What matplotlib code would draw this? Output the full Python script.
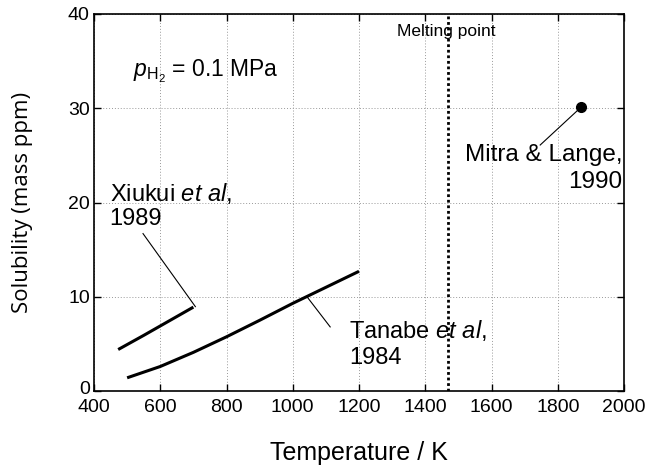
import matplotlib
matplotlib.use("Agg")
import matplotlib.pyplot as plt
import matplotlib.transforms as mtransforms

plt.rcParams['font.family'] = ['Liberation Sans', 'DejaVu Sans']
plt.rcParams['mathtext.fontset'] = 'custom'
plt.rcParams['mathtext.rm'] = 'Liberation Sans'
plt.rcParams['mathtext.it'] = 'Liberation Sans:italic'

# Data
xiukui_T = [473, 550, 625, 700]
xiukui_S = [4.4, 5.9, 7.4, 8.9]
tanabe_T = [500, 600, 700, 800, 900, 1000, 1100, 1200]
tanabe_S = [1.4, 2.6, 4.1, 5.75, 7.5, 9.3, 11.0, 12.7]
mitra_T = [1870]
mitra_S = [30.1]
melting_T = 1470

xticks = [400, 600, 800, 1000, 1200, 1400, 1600, 1800, 2000]
yticks = [0, 10, 20, 30, 40]

fig = plt.figure(figsize=(6.47, 4.68), dpi=100)
ax = fig.add_axes([94/647, 1-391/468, (624-94)/647, (391-14)/468])

ax.plot(xiukui_T, xiukui_S, color='black', lw=2.2, solid_capstyle='butt')
ax.plot(tanabe_T, tanabe_S, color='black', lw=2.2, solid_capstyle='butt')
ax.plot(mitra_T, mitra_S, 'o', color='black', ms=7)
ax.axvline(melting_T, color='black', lw=2, ls=(0, (1, 1)))

ax.set_xlim(400, 2000)
ax.set_ylim(0, 40)
ax.set_xticks(xticks)
ax.set_yticks(yticks)
ax.grid(True, color='#999999', ls=(0, (1, 2)), lw=0.7)
ax.tick_params(direction='in', top=True, right=True, length=5, width=1, labelsize=14)
ax.tick_params(axis='x', pad=5.5)
ax.tick_params(axis='y', pad=3)
for s in ax.spines.values():
    s.set_linewidth(1.2)

# lift the "0" label slightly, as in the reference, so it clears "400"
fig.canvas.draw()
zero_lbl = ax.get_yticklabels()[0]
zero_lbl.set_transform(zero_lbl.get_transform() +
                       mtransforms.ScaledTranslation(0, 3/100, fig.dpi_scale_trans))

ax.set_xlabel('Temperature / K', fontsize=18, labelpad=18)
ax.set_ylabel('Solubility (mass ppm)', fontsize=16, labelpad=25,
              family=['Open Sans', 'DejaVu Sans'])

# Annotations
ax.text(519, 33.9, r'$p_{\mathrm{H_2}}$ = 0.1 MPa', fontsize=16.5, va='center', ha='left')
ax.text(1463, 38.1, 'Melting point', fontsize=12.5, ha='center', va='center')

ax.text(447, 21.0, r'Xiukui $\it{et\ al}$,', fontsize=17, ha='left', va='center')
ax.text(447, 18.25, '1989', fontsize=17, ha='left', va='center')
ax.plot([548, 706], [16.7, 8.95], color='black', lw=0.8)

ax.text(1171, 6.47, r'Tanabe $\it{et\ al}$,', fontsize=17, ha='left', va='center')
ax.text(1171, 3.55, '1984', fontsize=17, ha='left', va='center')
ax.plot([1043, 1113], [10.0, 6.8], color='black', lw=0.8)

ax.text(1996, 25.0, 'Mitra & Lange,', fontsize=17.5, ha='right', va='center')
ax.text(1996, 22.2, '1990', fontsize=17.5, ha='right', va='center')
ax.plot([1870, 1747], [30.1, 26.1], color='black', lw=0.8)

fig.savefig('out.png', dpi=100)
